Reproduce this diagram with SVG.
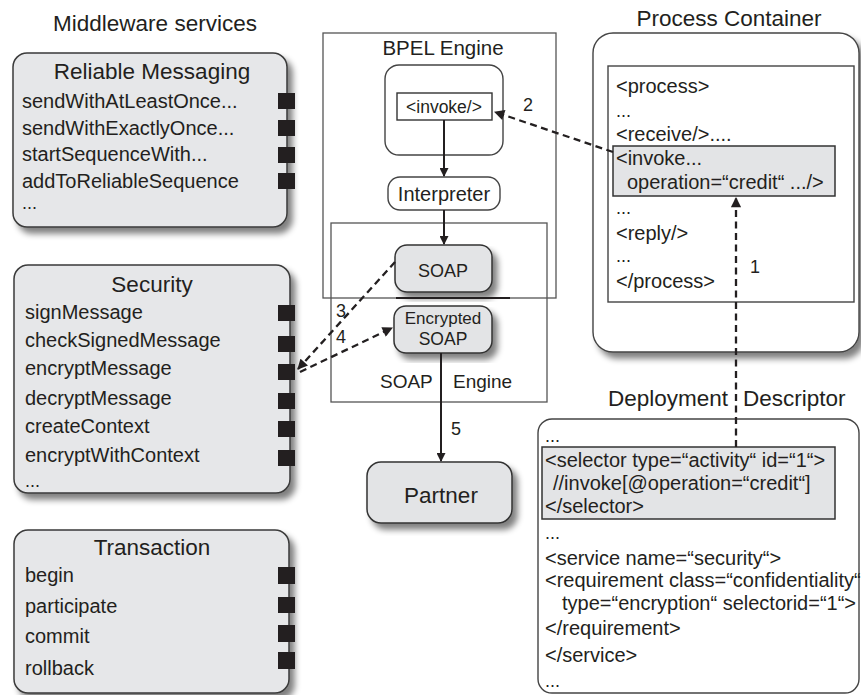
<svg xmlns="http://www.w3.org/2000/svg" width="861" height="695" viewBox="0 0 861 695">
<defs>
<style>
text{font-family:"Liberation Sans",Arial,sans-serif;fill:#231f20}
.t{font-size:22.5px;text-anchor:middle}
.h{font-size:22.5px}
.i{font-size:20px}
.c{font-size:20px}
.d{font-size:20px}
.svc{fill:#e6e7e9;stroke:#3a3a3a;stroke-width:1.5}
.port{fill:#231f20}
.frame{fill:none;stroke:#555;stroke-width:1.3}
.solid{stroke:#231f20;stroke-width:2;fill:none;marker-end:url(#ah)}
.dash{stroke:#231f20;stroke-width:2.3;fill:none;stroke-dasharray:7 4.5;marker-end:url(#ah)}
.hl{fill:#e3e4e6;stroke:#333;stroke-width:1.5}
.wb{fill:#fff;stroke:#444;stroke-width:1.4}
.lbl{font-size:18px}
</style>
<marker id="ah" viewBox="0 0 10 10" refX="9" refY="5" markerWidth="5" markerHeight="4.5" orient="auto" markerUnits="strokeWidth"><path d="M0,0 L10,5 L0,10 z" fill="#231f20"/></marker>
<filter id="sh" x="-10%" y="-10%" width="130%" height="130%"><feGaussianBlur in="SourceAlpha" stdDeviation="3"/><feOffset dx="5" dy="6"/><feComponentTransfer><feFuncA type="linear" slope="0.5"/></feComponentTransfer><feMerge><feMergeNode/><feMergeNode in="SourceGraphic"/></feMerge></filter>
</defs>
<rect width="861" height="695" fill="#fff"/>

<text id="middleware-title" class="h" x="155" y="31" text-anchor="middle">Middleware services</text>

<g id="reliable-messaging">
<rect class="svc" x="13" y="53" width="274" height="174" rx="14" filter="url(#sh)"/>
<text class="t" x="152" y="79">Reliable Messaging</text>
<text class="i" x="22" y="108">sendWithAtLeastOnce...</text>
<text class="i" x="22" y="135">sendWithExactlyOnce...</text>
<text class="i" x="22" y="161">startSequenceWith...</text>
<text class="i" x="22" y="188">addToReliableSequence</text>
<text x="22" y="209" font-size="18">...</text>
<rect class="port" x="278" y="93" width="17" height="16"/>
<rect class="port" x="278" y="120" width="17" height="16"/>
<rect class="port" x="278" y="147" width="17" height="16"/>
<rect class="port" x="278" y="173" width="17" height="16"/>
</g>

<g id="security">
<rect class="svc" x="14" y="265" width="276" height="228" rx="14" filter="url(#sh)"/>
<text class="t" x="152" y="292">Security</text>
<text class="i" x="25" y="319">signMessage</text>
<text class="i" x="25" y="347">checkSignedMessage</text>
<text class="i" x="25" y="375">encryptMessage</text>
<text class="i" x="25" y="405">decryptMessage</text>
<text class="i" x="25" y="433">createContext</text>
<text class="i" x="25" y="462">encryptWithContext</text>
<text x="25" y="487" font-size="18">...</text>
<rect class="port" x="278" y="305" width="17" height="16"/>
<rect class="port" x="278" y="336" width="17" height="16"/>
<rect class="port" x="278" y="364" width="17" height="16"/>
<rect class="port" x="278" y="393" width="17" height="16"/>
<rect class="port" x="278" y="421" width="17" height="16"/>
<rect class="port" x="278" y="450" width="17" height="16"/>
</g>

<g id="transaction">
<rect class="svc" x="14" y="530" width="275" height="163" rx="14" filter="url(#sh)"/>
<text class="t" x="152" y="555">Transaction</text>
<text class="i" x="25" y="582">begin</text>
<text class="i" x="25" y="613">participate</text>
<text class="i" x="25" y="643">commit</text>
<text class="i" x="25" y="675">rollback</text>
<rect class="port" x="278" y="567" width="17" height="17"/>
<rect class="port" x="278" y="597" width="17" height="16"/>
<rect class="port" x="278" y="625" width="17" height="17"/>
<rect class="port" x="278" y="652" width="17" height="17"/>
</g>

<g id="bpel-engine">
<rect class="frame" x="323" y="33" width="233" height="265"/>
<text x="443" y="55" font-size="20.5" text-anchor="middle">BPEL Engine</text>
<rect class="wb" x="385" y="65" width="118" height="90" rx="14"/>
</g>

<g id="invoke">
<rect fill="#fff" stroke="#333" stroke-width="1.4" x="397" y="93" width="95" height="27"/>
<text x="444" y="113" font-size="17.5" text-anchor="middle">&lt;invoke/&gt;</text>
</g>

<g id="interpreter">
<rect class="wb" x="388" y="177" width="112" height="33" rx="12"/>
<text x="444" y="201" font-size="20" text-anchor="middle">Interpreter</text>
</g>

<g id="soap-engine">
<rect class="frame" x="331" y="223" width="216" height="179"/>
<text font-size="19"><tspan x="380" y="388">SOAP</tspan> <tspan x="453" y="388">Engine</tspan></text>
</g>

<g id="soap">
<rect class="hl" x="395" y="245" width="97" height="47" rx="12" filter="url(#sh)"/>
<text x="443" y="277" font-size="18" text-anchor="middle">SOAP</text>
<line x1="396" y1="298" x2="510" y2="298" stroke="#231f20" stroke-width="2"/>
</g>

<g id="encrypted-soap">
<rect class="hl" x="394" y="306" width="98" height="47" rx="12" filter="url(#sh)"/>
<text x="443" y="324" font-size="17" text-anchor="middle">Encrypted</text>
<text x="443" y="345" font-size="17.5" text-anchor="middle">SOAP</text>
</g>

<g id="partner">
<rect class="hl" x="367" y="462" width="145" height="61" rx="14" filter="url(#sh)"/>
<text x="441" y="503" font-size="22.5" text-anchor="middle">Partner</text>
</g>

<g id="process-container">
<text class="h" x="729" y="26" text-anchor="middle">Process Container</text>
<rect class="wb" x="593" y="33" width="266" height="319" rx="20" filter="url(#sh)"/>
<rect fill="#fff" stroke="#444" stroke-width="1.4" x="608" y="66" width="246" height="236"/>
<rect class="hl" x="613" y="146" width="222" height="50"/>
<text class="c" x="616" y="93">&lt;process&gt;</text>
<text x="616" y="117" font-size="18">...</text>
<text class="c" x="616" y="141">&lt;receive/&gt;....</text>
<text class="c" x="616" y="165">&lt;invoke...</text>
<text class="c" x="627" y="189">operation=“credit“ .../&gt;</text>
<text x="616" y="214" font-size="18">...</text>
<text class="c" x="616" y="240">&lt;reply/&gt;</text>
<text x="616" y="262" font-size="18">...</text>
<text class="c" x="616" y="288">&lt;/process&gt;</text>
</g>

<g id="deployment-descriptor">
<text class="h"><tspan x="608" y="406">Deployment</tspan> <tspan x="743" y="406">Descriptor</tspan></text>
<rect class="wb" x="538" y="419" width="321" height="274" rx="14"/>
<rect class="hl" x="542" y="447" width="293" height="72"/>
<text x="545" y="442" font-size="18">...</text>
<text class="d" x="545" y="467">&lt;selector type=“activity“ id=“1“&gt;</text>
<text class="d" x="553" y="490">//invoke[@operation=“credit“]</text>
<text class="d" x="545" y="513">&lt;/selector&gt;</text>
<text x="545" y="539" font-size="18">...</text>
<text class="d" x="545" y="565">&lt;service name=“security“&gt;</text>
<text class="d" x="545" y="587">&lt;requirement class=“confidentiality“</text>
<text class="d" x="562" y="610">type=“encryption“ selectorid=“1“&gt;</text>
<text class="d" x="545" y="635">&lt;/requirement&gt;</text>
<text class="d" x="545" y="662">&lt;/service&gt;</text>
<text x="545" y="687" font-size="18">...</text>
</g>

<g id="connectors">
<line class="solid" x1="444" y1="120" x2="444" y2="176"/>
<line class="solid" x1="444" y1="210" x2="444" y2="244"/>
<line class="solid" x1="441" y1="353" x2="441" y2="461"/>
<line class="dash" x1="613" y1="152" x2="495" y2="112"/>
<line class="dash" x1="736" y1="447" x2="736" y2="198"/>
<line class="dash" x1="395" y1="262" x2="298" y2="369"/>
<line class="dash" x1="300" y1="372" x2="392" y2="328"/>
<text class="lbl" x="523" y="111">2</text>
<text class="lbl" x="750" y="273">1</text>
<text class="lbl" x="336" y="317">3</text>
<text class="lbl" x="336" y="343">4</text>
<text class="lbl" x="451" y="435">5</text>
</g>
</svg>
